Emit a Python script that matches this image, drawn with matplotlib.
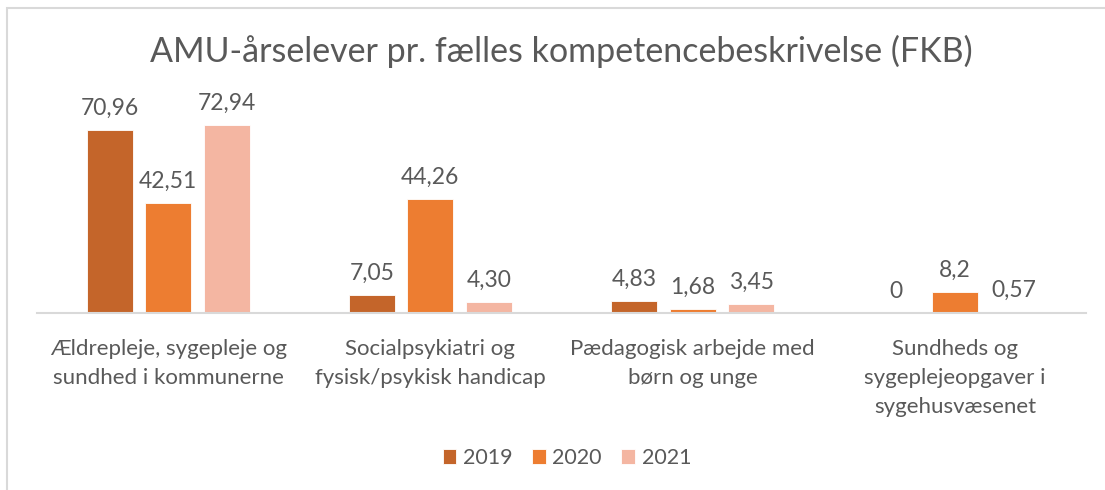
import numpy as np
import matplotlib.pyplot as plt
from matplotlib.patches import Rectangle

plt.rcParams['font.family'] = ['Lato', 'DejaVu Sans']

categories = ['Ældrepleje, sygepleje og\nsundhed i kommunerne',
              'Socialpsykiatri og\nfysisk/psykisk handicap',
              'Pædagogisk arbejde med\nbørn og unge',
              'Sundheds og\nsygeplejeopgaver i\nsygehusvæsenet']
years = ['2019', '2020', '2021']
v2019 = [70.96, 7.05, 4.83, 0]
v2020 = [42.51, 44.26, 1.68, 8.2]
v2021 = [72.94, 4.30, 3.45, 0.57]
labels2019 = ['70,96', '7,05', '4,83', '0']
labels2020 = ['42,51', '44,26', '1,68', '8,2']
labels2021 = ['72,94', '4,30', '3,45', '0,57']

colors = ['#C4652A', '#ED7D31', '#F4B6A2']
txt = '#595959'

fig = plt.figure(figsize=(11.05, 4.9), dpi=100)
# chart border
fig.patches.append(Rectangle((7 / 1105, -0.1), 1.2, 1 - 8 / 490 + 0.1,
                             transform=fig.transFigure, fill=False,
                             edgecolor='#D9D9D9', linewidth=1.5))

ax = fig.add_axes([37 / 1105, 177 / 490, 1049 / 1105, 200 / 490])
x = np.arange(len(categories))
w = 0.176
off = 0.223
series = [(v2019, labels2019), (v2020, labels2020), (v2021, labels2021)]
for i, (vals, labs) in enumerate(series):
    bars = ax.bar(x + (i - 1) * off, vals, w, color=colors[i], label=years[i],
                  edgecolor='white', linewidth=0.6)
    ax.bar_label(bars, labels=labs, padding=8, fontsize=16.5, color=txt)

ax.set_xlim(-0.5, 3.5)
ax.set_ylim(0, 77.5)
ax.set_yticks([])
for s in ['top', 'right', 'left']:
    ax.spines[s].set_visible(False)
ax.spines['bottom'].set_color('#D9D9D9')
ax.spines['bottom'].set_linewidth(1.5)
ax.set_xticks(x)
ax.set_xticklabels(categories, fontsize=16, color=txt, linespacing=1.55)
ax.tick_params(axis='x', length=0, pad=19)

fig.text(0.508, 1 - 51 / 490, 'AMU-årselever pr. fælles kompetencebeskrivelse (FKB)',
         ha='center', va='center', fontsize=24.5, color=txt)

fig.legend(loc='center', bbox_to_anchor=(0.513, 1 - 458 / 490), ncol=3, frameon=False,
           fontsize=15.5, labelcolor=txt, handlelength=0.65, handleheight=0.65,
           columnspacing=0.9, handletextpad=0.3)

fig.savefig('out.png', dpi=100)
